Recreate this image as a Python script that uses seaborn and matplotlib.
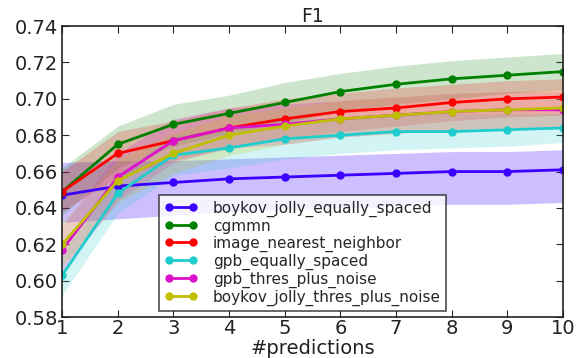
import numpy as np
import pandas as pd
import matplotlib
matplotlib.use("Agg")
import matplotlib.pyplot as plt
import seaborn as sns

n_pred = [1, 2, 3, 4, 5, 6, 7, 8, 9, 10]
methods = ["boykov_jolly_equally_spaced", "cgmmn", "image_nearest_neighbor",
           "gpb_equally_spaced", "gpb_thres_plus_noise", "boykov_jolly_thres_plus_noise"]
colors = ["#3a00ff", "#008000", "#ff0000", "#1fcccc", "#dd11cc", "#bfbf00"]

f1_boykov_eq = [0.647, 0.652, 0.654, 0.656, 0.657, 0.658, 0.659, 0.660, 0.660, 0.661]
f1_cgmmn = [0.649, 0.675, 0.686, 0.692, 0.698, 0.704, 0.708, 0.711, 0.713, 0.715]
f1_image_nn = [0.649, 0.670, 0.677, 0.684, 0.689, 0.693, 0.695, 0.698, 0.700, 0.701]
f1_gpb_eq = [0.603, 0.648, 0.669, 0.673, 0.678, 0.680, 0.682, 0.682, 0.683, 0.684]
f1_gpb_thres = [0.617, 0.657, 0.677, 0.684, 0.686, 0.689, 0.691, 0.693, 0.694, 0.694]
f1_boykov_thres = [0.620, 0.655, 0.670, 0.680, 0.685, 0.689, 0.691, 0.693, 0.694, 0.695]

lo_boykov_eq = [0.632, 0.634, 0.636, 0.638, 0.639, 0.640, 0.641, 0.642, 0.642, 0.643]
hi_boykov_eq = [0.665, 0.666, 0.666, 0.667, 0.668, 0.669, 0.670, 0.671, 0.671, 0.672]
lo_cgmmn = [0.636, 0.662, 0.674, 0.681, 0.687, 0.693, 0.697, 0.700, 0.703, 0.705]
hi_cgmmn = [0.662, 0.685, 0.697, 0.702, 0.709, 0.714, 0.718, 0.721, 0.723, 0.725]
lo_image_nn = [0.638, 0.657, 0.666, 0.673, 0.678, 0.682, 0.685, 0.688, 0.690, 0.691]
hi_image_nn = [0.660, 0.682, 0.688, 0.695, 0.700, 0.703, 0.706, 0.708, 0.710, 0.711]
lo_gpb_eq = [0.592, 0.637, 0.658, 0.662, 0.667, 0.670, 0.672, 0.673, 0.674, 0.676]
hi_gpb_eq = [0.615, 0.659, 0.680, 0.684, 0.689, 0.690, 0.692, 0.692, 0.692, 0.692]
lo_gpb_thres = [0.605, 0.644, 0.665, 0.673, 0.675, 0.679, 0.681, 0.683, 0.684, 0.684]
hi_gpb_thres = [0.630, 0.670, 0.689, 0.695, 0.697, 0.699, 0.701, 0.703, 0.704, 0.704]
lo_boykov_thres = [0.608, 0.643, 0.659, 0.669, 0.675, 0.679, 0.681, 0.683, 0.684, 0.685]
hi_boykov_thres = [0.632, 0.667, 0.681, 0.691, 0.695, 0.699, 0.701, 0.703, 0.704, 0.705]

means = [f1_boykov_eq, f1_cgmmn, f1_image_nn, f1_gpb_eq, f1_gpb_thres, f1_boykov_thres]
lows = [lo_boykov_eq, lo_cgmmn, lo_image_nn, lo_gpb_eq, lo_gpb_thres, lo_boykov_thres]
highs = [hi_boykov_eq, hi_cgmmn, hi_image_nn, hi_gpb_eq, hi_gpb_thres, hi_boykov_thres]

rows = []
for m, vals, lo, hi in zip(methods, means, lows, highs):
    for x, v, l, h in zip(n_pred, vals, lo, hi):
        rows.append({"n": x, "f1": v, "lo": l, "hi": h, "method": m})
df = pd.DataFrame(rows)

sns.set_style("ticks")
plt.rcParams["font.family"] = ["DejaVu Sans"]
plt.rcParams.update({
    "xtick.direction": "in", "ytick.direction": "in",
    "xtick.top": True, "ytick.right": True,
    "xtick.major.size": 5, "ytick.major.size": 5,
    "axes.edgecolor": "#222222", "axes.linewidth": 1.2,
})

fig = plt.figure(figsize=(5.81, 3.58), dpi=100)
ax = fig.add_axes([0.107, 0.1145, 0.862, 0.8125])

palette = dict(zip(methods, colors))
for m in methods:
    sub = df[df["method"] == m]
    a = 0.25 if m == methods[0] else 0.2
    ax.fill_between(sub["n"], sub["lo"], sub["hi"], color=palette[m], alpha=a, linewidth=0)

sns.lineplot(data=df, x="n", y="f1", hue="method", hue_order=methods, palette=palette,
             marker="o", markersize=6, markeredgewidth=0, linewidth=2, ax=ax, legend=True)

handles, labels = ax.get_legend_handles_labels()
leg = ax.legend(handles, labels, numpoints=2, loc="lower left", bbox_to_anchor=(0.193, 0.02),
                fontsize=11, frameon=True, fancybox=False, borderaxespad=0,
                handlelength=2.2, labelspacing=0.12, borderpad=0.35, handletextpad=1.0)
leg.get_frame().set_edgecolor("#222222")
leg.get_frame().set_linewidth(1.2)

ax.set_xlim(1, 10)
ax.set_ylim(0.58, 0.74)
ax.set_xticks(n_pred)
ax.set_yticks([0.58, 0.60, 0.62, 0.64, 0.66, 0.68, 0.70, 0.72, 0.74])
ax.set_yticklabels(["0.58", "0.60", "0.62", "0.64", "0.66", "0.68", "0.70", "0.72", "0.74"])
ax.tick_params(labelsize=14, labelcolor="#222222")
ax.tick_params(axis="x", pad=1.5)
ax.tick_params(axis="y", pad=3)
ax.set_xlabel("#predictions", fontsize=14, color="#222222", labelpad=1)
ax.set_ylabel("")
ax.set_title("F1", fontsize=13.5, color="#222222", pad=3)

fig.savefig("out.png", dpi=100)
